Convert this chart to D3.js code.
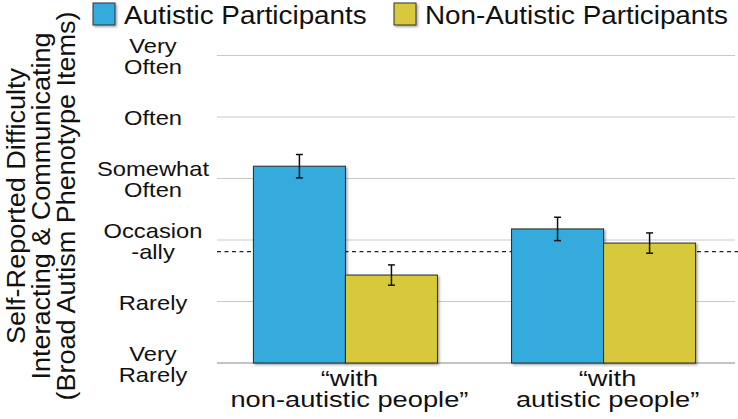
<!DOCTYPE html>
<html>
<head>
<meta charset="utf-8">
<script src="https://cdn.jsdelivr.net/npm/d3@7"></script>
<style>
  body { margin: 0; background: #fff; }
  text { font-family: "Liberation Sans", Arial, Helvetica, sans-serif; fill: #111; }
</style>
</head>
<body>
<div id="chart"></div>
<script>
// data (1 = Very Rarely ... 6 = Very Often)
var groups = ["with non-autistic people", "with autistic people"]
var groupLabels = [["\u201cwith", "non-autistic people\u201d"], ["\u201cwith", "autistic people\u201d"]]
var series = ["Autistic Participants", "Non-Autistic Participants"]
var autisticMeans = [4.20, 3.18]
var autisticErr = [0.19, 0.19]
var nonAutisticMeans = [2.43, 2.95]
var nonAutisticErr = [0.165, 0.165]
var tickValues = [1, 2, 3, 4, 5, 6]
var tickLabels = [["Very", "Rarely"], ["Rarely"], ["Occasion", "-ally"], ["Somewhat", "Often"], ["Often"], ["Very", "Often"]]
var referenceLine = 2.81
var titleLines = ["Self-Reported Difficulty", "Interacting & Communicating", "(Broad Autism Phenotype Items)"]

var colors = { "Autistic Participants": "#35aadd", "Non-Autistic Participants": "#d8c83a" }

var width = 738, height = 419
var plotLeft = 217, plotRight = 735, plotTop = 55.5, plotBottom = 363

var svg = d3.select("#chart").append("svg")
    .attr("width", width)
    .attr("height", height)

var defs = svg.append("defs")
var shadow = defs.append("filter").attr("id", "shadow")
  .attr("x", "-10%").attr("y", "-10%").attr("width", "130%").attr("height", "130%")
shadow.append("feDropShadow")
  .attr("dx", 1.5).attr("dy", 1.5).attr("stdDeviation", 1.2)
  .attr("flood-color", "#000").attr("flood-opacity", 0.35)

var yScale = d3.scaleLinear().domain([1, 6]).range([plotBottom, plotTop])

var x0 = d3.scaleBand().domain(groups).range([plotLeft, 732])
  .paddingInner(0.287).paddingOuter(0.141)
var x1 = d3.scaleBand().domain(series).range([0, x0.bandwidth()])

// gridlines
svg.append("g").selectAll("line")
  .data(tickValues)
  .enter().append("line")
  .attr("x1", plotLeft).attr("x2", plotRight)
  .attr("y1", function (d) { return yScale(d) })
  .attr("y2", function (d) { return yScale(d) })
  .attr("stroke", function (d) { return d === 1 ? "#8a8a8a" : "#c9c9c9" })
  .attr("stroke-width", 1)

// y tick labels (multi-line)
var tickG = svg.append("g").selectAll("text")
  .data(tickValues)
  .enter().append("text")
  .attr("text-anchor", "middle")
  .attr("font-size", 21)
  .attr("transform", function (d) { return "translate(153," + yScale(d) + ") scale(1.13,1)" })
tickG.each(function (d, i) {
  var lines = tickLabels[i]
  var el = d3.select(this)
  var start = lines.length === 1 ? 8 : -2.5
  lines.forEach(function (l, j) {
    el.append("tspan").attr("x", 0).attr("y", start + j * 21).text(l)
  })
})

// dashed reference line
svg.append("line")
  .attr("x1", plotLeft).attr("x2", width)
  .attr("y1", yScale(referenceLine)).attr("y2", yScale(referenceLine))
  .attr("stroke", "#222").attr("stroke-width", 1.3)
  .attr("stroke-dasharray", "4,3.5")

// bars
var barData = []
groups.forEach(function (g, i) {
  barData.push({ group: g, series: series[0], value: autisticMeans[i], err: autisticErr[i] })
  barData.push({ group: g, series: series[1], value: nonAutisticMeans[i], err: nonAutisticErr[i] })
})

svg.append("g").selectAll("rect")
  .data(barData)
  .enter().append("rect")
  .attr("x", function (d) { return x0(d.group) + x1(d.series) })
  .attr("y", function (d) { return yScale(d.value) })
  .attr("width", x1.bandwidth())
  .attr("height", function (d) { return yScale(1) - yScale(d.value) })
  .attr("fill", function (d) { return colors[d.series] })
  .attr("stroke", "#2a2a2a")
  .attr("stroke-width", 1)
  .attr("filter", "url(#shadow)")

// error bars
var errG = svg.append("g").selectAll("g")
  .data(barData)
  .enter().append("g")
  .attr("stroke", "#111").attr("stroke-width", 1.5)
errG.append("line")
  .attr("x1", function (d) { return x0(d.group) + x1(d.series) + x1.bandwidth() / 2 })
  .attr("x2", function (d) { return x0(d.group) + x1(d.series) + x1.bandwidth() / 2 })
  .attr("y1", function (d) { return yScale(d.value + d.err) })
  .attr("y2", function (d) { return yScale(d.value - d.err) })
;[1, -1].forEach(function (s) {
  errG.append("line")
    .attr("x1", function (d) { return x0(d.group) + x1(d.series) + x1.bandwidth() / 2 - 3.5 })
    .attr("x2", function (d) { return x0(d.group) + x1(d.series) + x1.bandwidth() / 2 + 3.5 })
    .attr("y1", function (d) { return yScale(d.value + s * d.err) })
    .attr("y2", function (d) { return yScale(d.value + s * d.err) })
})

// x category labels
var xl = svg.append("g").selectAll("text")
  .data(groups)
  .enter().append("text")
  .attr("text-anchor", "middle")
  .attr("font-size", 22)
  .attr("transform", function (d) { return "translate(" + (x0(d) + x0.bandwidth() / 2 + 4) + ",0) scale(1.24,1)" })
xl.each(function (d, i) {
  var el = d3.select(this)
  groupLabels[i].forEach(function (l, j) {
    el.append("tspan").attr("x", 0).attr("y", 386 + j * 21).text(l)
  })
})

// y axis title
svg.append("g").selectAll("text")
  .data(titleLines)
  .enter().append("text")
  .attr("text-anchor", "middle")
  .attr("font-size", 26)
  .attr("transform", function (d, i) { return "translate(" + (25 + i * 25) + ",206) rotate(-90) scale(1.04,1)" })
  .text(function (d) { return d })

// legend
var legendX = [93, 394]
var legend = svg.append("g").selectAll("g")
  .data(series)
  .enter().append("g")
  .attr("transform", function (d, i) { return "translate(" + legendX[i] + ",3)" })
legend.append("rect")
  .attr("width", 22).attr("height", 22)
  .attr("fill", function (d) { return colors[d] })
  .attr("stroke", "#333").attr("stroke-width", 1)
  .attr("filter", "url(#shadow)")
legend.append("text")
  .attr("font-size", 26.5)
  .attr("transform", "translate(31,21) scale(1.05,1)")
  .text(function (d) { return d })
</script>
</body>
</html>
